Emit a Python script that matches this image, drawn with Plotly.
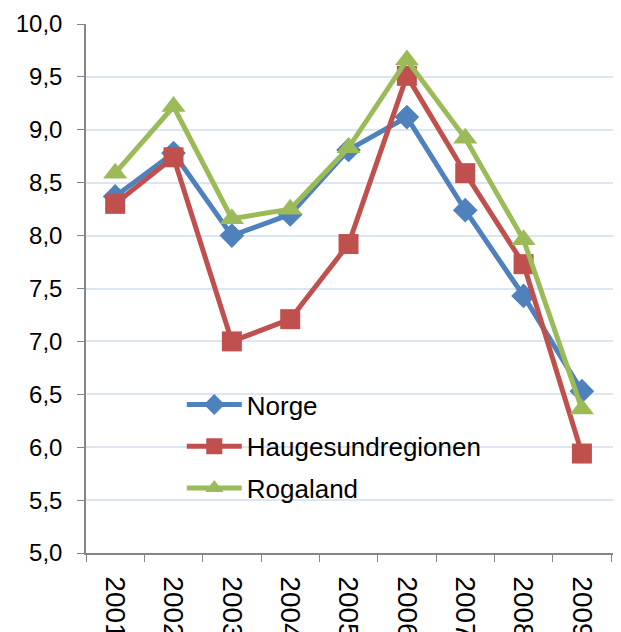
import plotly.graph_objects as go

years = ["2001", "2002", "2003", "2004", "2005", "2006", "2007", "2008", "2009"]
norge = [8.37, 8.78, 8.00, 8.20, 8.81, 9.12, 8.24, 7.43, 6.53]
haugesund = [8.30, 8.74, 7.00, 7.21, 7.92, 9.51, 8.59, 7.73, 5.94]
rogaland = [8.59, 9.22, 8.16, 8.25, 8.83, 9.66, 8.92, 7.96, 6.36]

series = [
    ("Norge", norge, "#4F81BD", "diamond", 19),
    ("Haugesundregionen", haugesund, "#C0504D", "square", 20),
    ("Rogaland", rogaland, "#9BBB59", "triangle-up", 21),
]

fig = go.Figure()
for i, (name, vals, color, sym, size) in enumerate(series):
    fig.add_trace(go.Scatter(
        x=years, y=vals, name=name, mode="lines+markers",
        line=dict(color=color, width=5),
        marker=dict(symbol=sym, size=size, color=color),
        legendgroup=name,
    ))

# page body has an 8px default margin, so figure is sized/offset to compensate
fig.update_layout(
    width=613, height=624,
    margin=dict(l=78, r=0, t=16, b=79),
    paper_bgcolor="white", plot_bgcolor="white",
    separators=",.",
    font=dict(family="Liberation Sans, Arial, sans-serif", size=24, color="black"),
    showlegend=True,
    legend=dict(
        x=0.179, y=0.325, xanchor="left", yanchor="top",
        bgcolor="rgba(0,0,0,0)", traceorder="grouped", tracegroupgap=5,
        font=dict(size=26), itemwidth=55,
    ),
    xaxis=dict(
        type="category", range=[-0.5, 8.67], automargin=False,
        showline=True, linecolor="#868686", linewidth=1.5,
        ticks="outside", ticklen=7, tickcolor="#868686", tickson="boundaries",
        showgrid=False, tickangle=90, ticklabelstandoff=16,
        tickfont=dict(size=28),
    ),
    yaxis=dict(
        range=[5, 10], dtick=0.5, tickformat=".1f", automargin=False,
        showline=True, linecolor="#868686", linewidth=1.5,
        ticks="outside", ticklen=7, tickcolor="#868686",
        showgrid=True, gridcolor="#DCE6F2", gridwidth=1.5,
        zeroline=False, ticklabelstandoff=10,
        tickfont=dict(size=24),
    ),
)

fig.write_html("out.html")
